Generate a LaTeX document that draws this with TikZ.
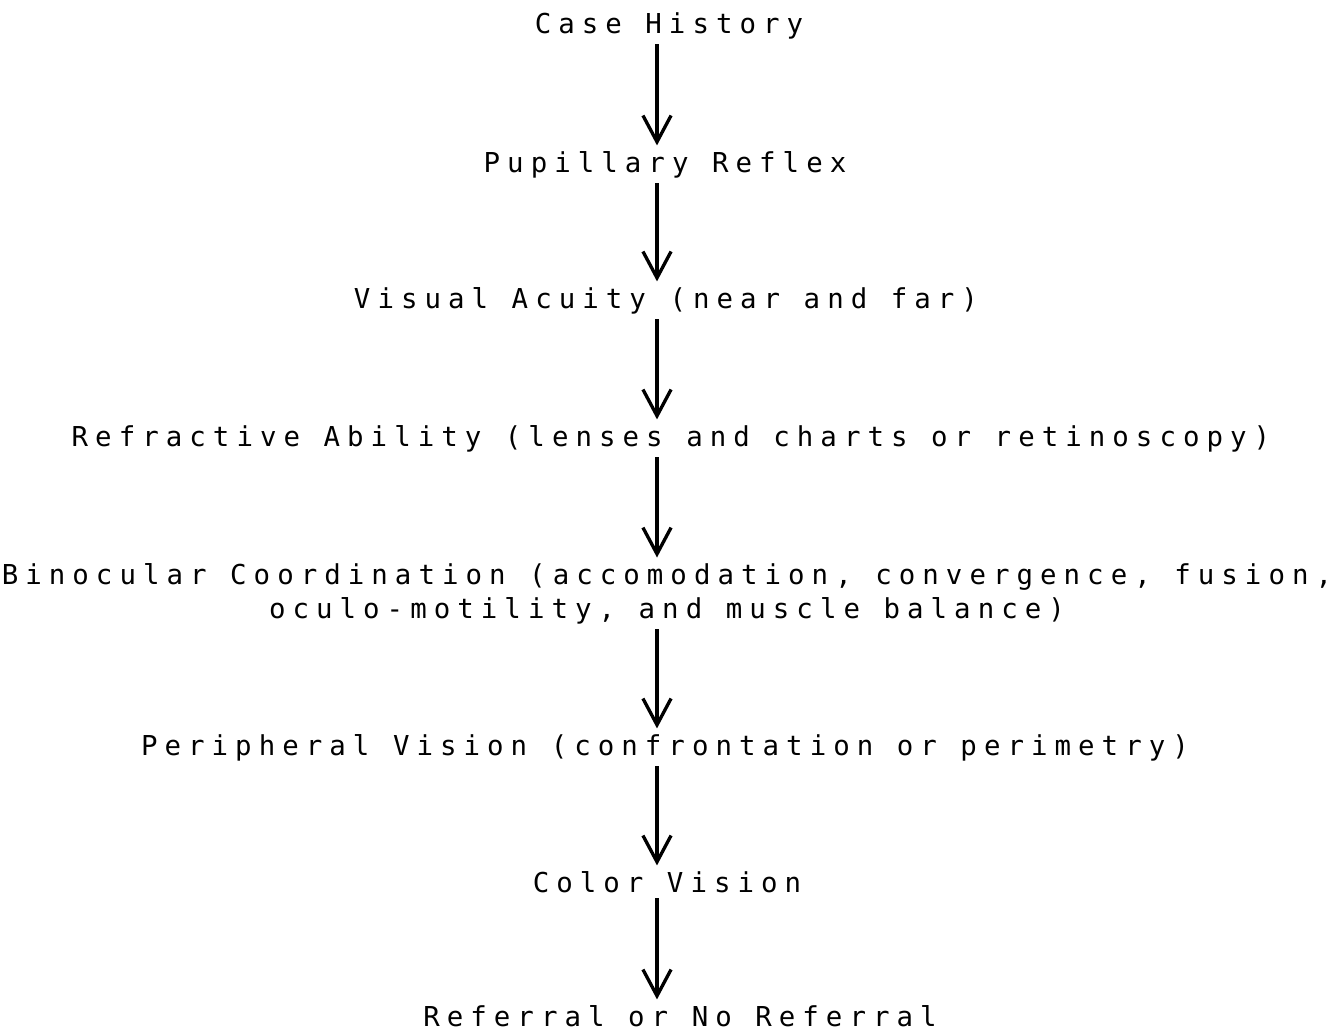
\documentclass[tikz,border=0pt]{standalone}
\usepackage{fontspec}
\newfontfamily\plotfont[LetterSpace=25.7]{DejaVu Sans Mono}
\usetikzlibrary{arrows.meta}

\begin{document}
\begin{tikzpicture}[x=0.02cm, y=-0.02cm,
  stage/.style={font=\plotfont\fontsize{15.6}{19.3}\selectfont, anchor=base, inner sep=3pt, align=center},
  flow/.style={-{Straight Barb[length=15pt,width=16pt]}, line width=1.9pt}]
  \useasboundingbox (0,0) rectangle (1336,1032);
  % examination steps, top to bottom
  \node[stage] (hist) at (669,33) {Case History};
  \node[stage] (pup) at (665,172) {Pupillary Reflex};
  \node[stage] (acuity) at (666,308) {Visual Acuity (near and far)};
  \node[stage] (refr) at (671,446) {Refractive Ability (lenses and charts or retinoscopy)};
  \node[stage] (binoc) at (667,618) {Binocular Coordination (accomodation, convergence, fusion,\\oculo-motility, and muscle balance)};
  \node[stage] (peri) at (665,755) {Peripheral Vision (confrontation or perimetry)};
  \node[stage] (color) at (667,892) {Color Vision};
  \node[stage] (refer) at (680,1026) {Referral or No Referral};
  % arrows between steps
  \coordinate (ax) at (657,0);
  \foreach \a/\b in {hist/pup, pup/acuity, acuity/refr, refr/binoc, binoc/peri, peri/color, color/refer} {
    \draw[flow] (\a.south -| ax) -- (\b.north -| ax);
  }
\end{tikzpicture}
\end{document}
